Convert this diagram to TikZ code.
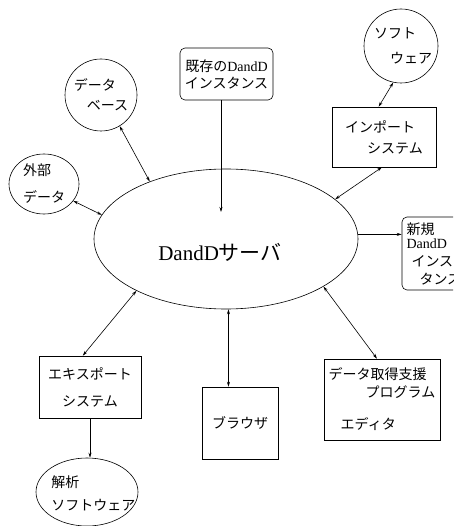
\documentclass[tikz,border=0pt]{standalone}
\usepackage{fontspec}
\setmainfont{Liberation Serif}
\newfontfamily\cjk{Noto Sans CJK JP}
\usetikzlibrary{arrows.meta,shapes.geometric}
\begin{document}
\begin{tikzpicture}[x=1pt,y=-1pt,
  line width=0.6pt,
  >={Stealth[length=5pt,width=3pt]},
  jp/.style={font=\cjk\fontsize{14}{#1}\selectfont},
  shp/.style={draw, inner sep=0pt}]
\useasboundingbox (0,0) rectangle (453,526);
\clip (0,0) rectangle (453,526);

% central server
\node[shp, ellipse, minimum width=264pt, minimum height=140pt] (srv) at (226,239) {};
\node[font=\fontsize{21}{25}\selectfont] (srvtext) at (220,252) {DandD{\cjk サーバ}};

% surrounding nodes
\node[shp, circle, minimum size=72pt, jp=20, align=left] (db) at (101,95) {データ\\\hspace*{13pt}ベース};
\node[shp, ellipse, minimum width=70pt, minimum height=60pt, jp=27, align=left] (ext) at (44,184) {外部\\データ};
\node[shp, circle, minimum size=74pt, jp=25, align=left] (sw) at (401,46) {\hspace*{4pt}ソフト\\\hspace*{20pt}ウェア};
\node[shp, rectangle, minimum width=104pt, minimum height=60pt, jp=21, align=left] (imp) at (384,137) {インポート\\\hspace*{22pt}システム};
\node[shp, rectangle, rounded corners=5pt, minimum width=93pt, minimum height=52pt, jp=17, align=center] (exist) at (226.5,74) {既存の\textrm{DandD}\\インスタンス};
\node[shp, rectangle, rounded corners=5pt, minimum width=75pt, minimum height=73pt, jp=18, align=left, text width=66pt] (new) at (439.5,253.5) {新規\\[-4pt]\textrm{DandD}\\\hspace*{5pt}インス\\\hspace*{13pt}タンス};
\node[shp, rectangle, minimum width=102pt, minimum height=62pt, jp=27, align=center] (exp) at (90,387) {エキスポート\\システム};
\node[shp, ellipse, minimum width=102pt, minimum height=68pt] (ana) at (87,492) {};
\node[jp=23, align=left, anchor=west, inner sep=0pt] (anatext) at (51,493) {解析\\ソフトウェア};
\node[shp, rectangle, minimum width=76pt, minimum height=72pt, jp=20] (br) at (240,423) {ブラウザ};
\node[shp, rectangle, minimum width=116pt, minimum height=81pt, jp=18, align=left] (acq) at (382,399.5) {データ取得支援\\\hspace*{37pt}プログラム\\[14pt]\hspace*{12pt}エディタ};

% connectors
\draw[<->] (db.-59) -- (srv.143);
\draw[<->] (ext.-30) -- (srv.169);
\draw[<->] (sw.-102) -- (imp.100);
\draw[<->] (imp.-94) -- (srv.20);
\draw[->] (srv.2) -- (srv.2 -| new.west);
\coordinate (existend) at (221,212);
\draw[->] (exist.south -| existend) -- (existend);
\draw[<->] (srv.210) -- (exp.103);
\draw[->] (exp.south) -- (exp.south |- ana.north);
\draw[<->] (srv.-88.4) -- (srv.-88.4 |- br.north);
\draw[<->] (srv.-26.6) -- (acq.97);
\end{tikzpicture}
\end{document}
